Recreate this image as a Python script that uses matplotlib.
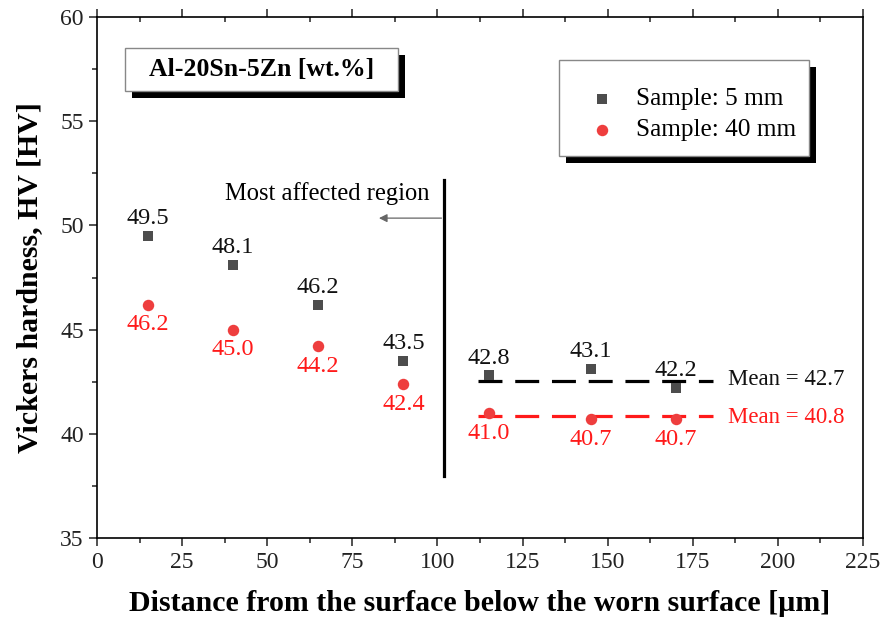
import matplotlib
matplotlib.use("Agg")
import matplotlib.pyplot as plt
from matplotlib.patches import Rectangle
from matplotlib.ticker import MultipleLocator

plt.rcParams['font.family'] = ['Liberation Serif', 'DejaVu Serif']

# data
depth = [15, 40, 65, 90, 115, 145, 170]
hv_5mm = [49.5, 48.1, 46.2, 43.5, 42.8, 43.1, 42.2]
hv_40mm = [46.2, 45.0, 44.2, 42.4, 41.0, 40.7, 40.7]
mean_x = [112, 181]
mean_5mm_y = 42.55
mean_40mm_y = 40.85
mean_labels = ["Mean = 42.7", "Mean = 40.8"]
split_x = 102
split_y = [38.0, 52.2]

grey = '#4d4d4d'
red_m = '#ee3e3e'
red_t = '#ff1a1a'

fig = plt.figure(figsize=(8.86, 6.23), dpi=100)
ax = fig.add_axes([0.1095, 0.1364, 0.8645, 0.8363])

ax.scatter(depth, hv_5mm, marker='s', s=54, color=grey, zorder=3, lw=0,
           label='Sample: 5 mm')
ax.scatter(depth, hv_40mm, marker='o', s=68, color=red_m, zorder=3, lw=0,
           label='Sample: 40 mm')

for x, y in zip(depth, hv_5mm):
    ax.annotate(f"{y:.1f}", (x, y), xytext=(0, 5), textcoords='offset points',
                ha='center', va='bottom', fontsize=17.5, color='#111111')
for x, y in zip(depth, hv_40mm):
    ax.annotate(f"{y:.1f}", (x, y), xytext=(0, -7), textcoords='offset points',
                ha='center', va='top', fontsize=17.5, color=red_t)

# mean lines
ax.plot(mean_x, [mean_5mm_y] * 2, color='black', lw=2.3, dashes=(7.5, 4), zorder=2)
ax.plot(mean_x, [mean_40mm_y] * 2, color='#ff1a1a', lw=2.3, dashes=(7.5, 4), zorder=2)
ax.text(185.5, mean_5mm_y + 0.05, mean_labels[0], fontsize=16.5, va='center', color='#111111')
ax.text(185.5, mean_40mm_y - 0.05, mean_labels[1], fontsize=16.5, va='center', color=red_t)

# boundary of most affected region
ax.plot([split_x, split_x], split_y, color='black', lw=2.3)
ax.annotate('', xy=(82, 50.35), xytext=(split_x, 50.35),
            arrowprops=dict(arrowstyle='-|>', color='#666666', lw=0.9,
                            mutation_scale=12))
ax.text(97.6, 51.55, 'Most affected region', fontsize=17.7, ha='right', va='center')

# title box with shadow
off_x, off_y = 7 / 766, 7 / 521
bx0, by0, bw, bh = 0.0366, 0.858, 0.3564, 0.0825
ax.add_patch(Rectangle((bx0 + off_x, by0 - off_y), bw, bh, transform=ax.transAxes,
                       facecolor='black', edgecolor='none', zorder=4))
ax.add_patch(Rectangle((bx0, by0), bw, bh, transform=ax.transAxes,
                       facecolor='white', edgecolor='#888888', lw=1, zorder=5))
ax.text(bx0 + bw / 2, by0 + bh / 2, 'Al-20Sn-5Zn [wt.%]', transform=ax.transAxes,
        ha='center', va='center', fontsize=18.5, fontweight='bold', zorder=6)

# legend box with shadow
lx0, ly0, lw_, lh = 0.603, 0.733, 0.3265, 0.1845
ax.add_patch(Rectangle((lx0 + off_x, ly0 - off_y), lw_, lh, transform=ax.transAxes,
                       facecolor='black', edgecolor='none', zorder=4))
ax.add_patch(Rectangle((lx0, ly0), lw_, lh, transform=ax.transAxes,
                       facecolor='white', edgecolor='#888888', lw=1, zorder=5))
leg = ax.legend(loc='center left', bbox_to_anchor=(0.649, 0.813), frameon=False,
                fontsize=18.2, handletextpad=1.05, labelspacing=0.33,
                handlelength=0.6, borderpad=0, borderaxespad=0, scatterpoints=1)
leg.set_zorder(7)

ax.set_xlim(0, 225)
ax.set_ylim(35, 60)
ax.xaxis.set_major_locator(MultipleLocator(25))
ax.xaxis.set_minor_locator(MultipleLocator(12.5))
ax.yaxis.set_major_locator(MultipleLocator(5))
ax.yaxis.set_minor_locator(MultipleLocator(2.5))
ax.tick_params(which='both', direction='out', top=True, right=False, labelsize=17,
               width=1.1, colors='#222222')
ax.tick_params(which='major', length=6)
ax.tick_params(which='minor', length=3.5)
# top ticks point inward
for t in ax.xaxis.get_major_ticks() + ax.xaxis.get_minor_ticks():
    t.tick2line.set_marker(3)
ax.tick_params(axis='x', which='major', pad=4)
for sp in ax.spines.values():
    sp.set_linewidth(1.2)

ax.set_xlabel('Distance from the surface below the worn surface [µm]',
              fontsize=21.5, fontweight='bold', labelpad=12)
ax.set_ylabel('Vickers hardness, HV [HV]', fontsize=21.5, fontweight='bold', labelpad=12)

fig.savefig('out.png', dpi=100)
